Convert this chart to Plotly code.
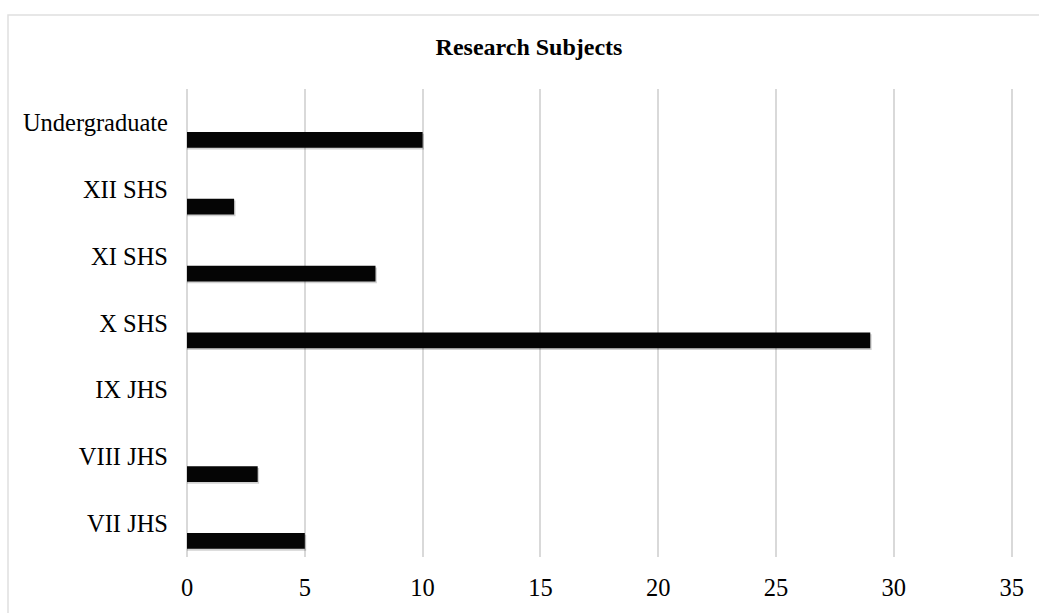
import plotly.graph_objects as go

categories = ["VII JHS", "VIII JHS", "IX JHS", "X SHS", "XI SHS", "XII SHS", "Undergraduate"]
values = [5, 3, 0, 29, 8, 2, 10]
x_ticks = [0, 5, 10, 15, 20, 25, 30, 35]
title_text = "Research Subjects"

FONT = "Liberation Serif, Times New Roman, serif"
X_MAX = 35.1

fig = go.Figure()
# soft shadow under bars
fig.add_trace(go.Bar(
    y=categories, x=[v + 0.06 if v > 0 else 0 for v in values], orientation="h",
    width=0.236, offset=-0.405,
    marker=dict(color="rgba(0,0,0,0.18)", line=dict(width=0)),
    hoverinfo="skip", showlegend=False,
))
fig.add_trace(go.Bar(
    y=categories, x=values, orientation="h",
    width=0.236, offset=-0.378,
    marker=dict(color="#050505", line=dict(width=0)),
    showlegend=False,
))

L, R, T, B = 187, 25, 89, 50
W, H = 1039, 613
pw, ph = W - L - R, H - T - B

fig.update_layout(
    width=W, height=H,
    margin=dict(l=L, r=R, t=T, b=B),
    paper_bgcolor="white", plot_bgcolor="white",
    barmode="overlay",
    font=dict(family=FONT, size=24.5, color="black"),
    title=dict(
        text="<b>" + title_text + "</b>",
        font=dict(family=FONT, size=24, color="black"),
        x=529 / W, xanchor="center", xref="container",
        y=1 - 47 / H, yanchor="middle", yref="container",
    ),
    xaxis=dict(
        range=[0, X_MAX], tickvals=x_ticks,
        showgrid=True, gridcolor="#d9d9d9", gridwidth=1.5,
        zeroline=True, zerolinecolor="#d9d9d9", zerolinewidth=1.5,
        showline=False, ticks="", ticklabelstandoff=13,
        tickfont=dict(family=FONT, size=24.5, color="black"),
    ),
    yaxis=dict(
        categoryorder="array", categoryarray=categories,
        range=[-0.5, 6.5],
        showgrid=False, zeroline=False, showline=False, ticks="",
        ticklabelstandoff=18,
        tickfont=dict(family=FONT, size=24.5, color="black"),
    ),
    shapes=[dict(
        type="rect", xref="paper", yref="paper",
        x0=(8 - L) / pw, x1=(W + 10 - L) / pw,
        y0=(H - B - (H + 10)) / ph, y1=(H - B - 14) / ph,
        line=dict(color="#e0e0e0", width=1.5), fillcolor="rgba(0,0,0,0)",
        layer="below",
    )],
)

fig.write_html("out.html")
